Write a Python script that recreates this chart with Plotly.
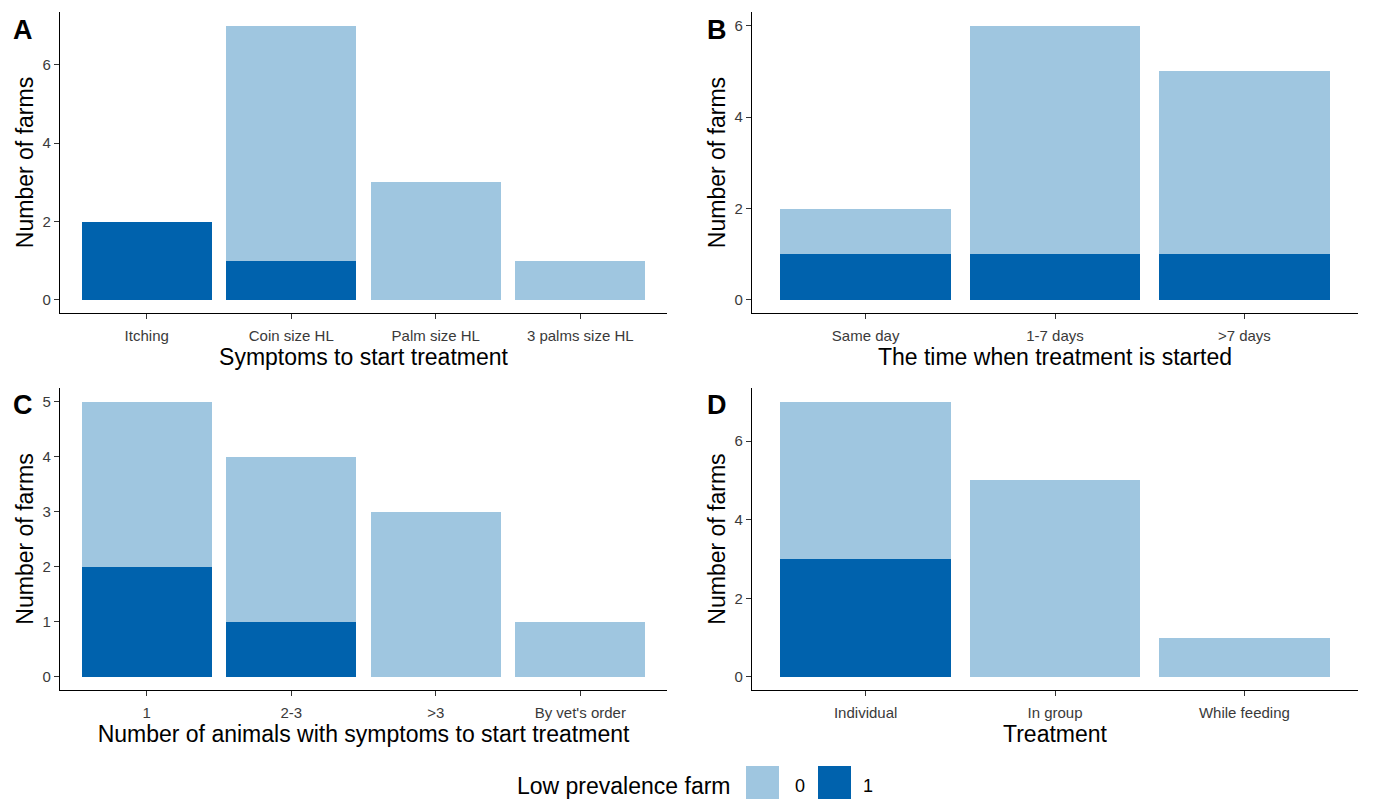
import plotly.graph_objects as go
from plotly.subplots import make_subplots

# ---- data ----
cats_a = ["Itching", "Coin size HL", "Palm size HL", "3 palms size HL"]
a_low1 = [2, 1, 0, 0]
a_low0 = [0, 6, 3, 1]

cats_b = ["Same day", "1-7 days", ">7 days"]
b_low1 = [1, 1, 1]
b_low0 = [1, 5, 4]

cats_c = ["1", "2-3", ">3", "By vet's order"]
c_low1 = [2, 1, 0, 0]
c_low0 = [3, 3, 3, 1]

cats_d = ["Individual", "In group", "While feeding"]
d_low1 = [3, 0, 0]
d_low0 = [4, 5, 1]

xtitles = ["Symptoms to start treatment", "The time when treatment is started",
           "Number of animals with symptoms to start treatment", "Treatment"]
panel_letters = ["A", "B", "C", "D"]
legend_title = "Low prevalence farm"
legend_labels = ["0", "1"]

COL0 = "#9fc6e0"
COL1 = "#0062ad"
FONT = "Arial, Liberation Sans, sans-serif"

W, H = 1378, 799
fig = make_subplots(rows=2, cols=2)

panels = [
    (cats_a, a_low1, a_low0, 1, 1, [0, 2, 4, 6], 7.35),
    (cats_b, b_low1, b_low0, 1, 2, [0, 2, 4, 6], 6.3),
    (cats_c, c_low1, c_low0, 2, 1, [0, 1, 2, 3, 4, 5], 5.25),
    (cats_d, d_low1, d_low0, 2, 2, [0, 2, 4, 6], 7.35),
]

for cats, v1, v0, r, c, ticks, top in panels:
    fig.add_trace(go.Bar(x=cats, y=v1, marker=dict(color=COL1, line=dict(width=0)),
                         showlegend=False, name="1"), row=r, col=c)
    fig.add_trace(go.Bar(x=cats, y=v0, marker=dict(color=COL0, line=dict(width=0)),
                         showlegend=False, name="0"), row=r, col=c)
    n = len(cats)
    fig.update_xaxes(range=[-0.6, n - 0.4], row=r, col=c)
    fig.update_yaxes(range=[-(top / 1.1) * 0.05, top], tickvals=ticks, row=r, col=c)

def px_x(p):
    return p / W

def px_y(p):
    return 1 - p / H

doms = {
    "xaxis": (px_x(60), px_x(667)),
    "xaxis2": (px_x(752), px_x(1358)),
    "xaxis3": (px_x(60), px_x(667)),
    "xaxis4": (px_x(752), px_x(1358)),
}
ydoms = {
    "yaxis": (px_y(313), px_y(12)),
    "yaxis2": (px_y(313), px_y(12)),
    "yaxis3": (px_y(690), px_y(388)),
    "yaxis4": (px_y(690), px_y(388)),
}
for k, d in doms.items():
    fig.layout[k].domain = d
for k, d in ydoms.items():
    fig.layout[k].domain = d

axis_common = dict(showline=True, linecolor="black", linewidth=1.2, ticks="outside",
                   ticklen=5, tickcolor="#333333", tickwidth=1.1, showgrid=False,
                   zeroline=False, automargin=False,
                   tickfont=dict(family=FONT, size=15, color="#3a3a3a"))
fig.update_xaxes(**axis_common, ticklabelstandoff=4)
fig.update_yaxes(**axis_common)

for i, t in enumerate(xtitles):
    key = "xaxis" if i == 0 else f"xaxis{i+1}"
    fig.layout[key].title = dict(text=t, font=dict(family=FONT, size=23, color="black"), standoff=1)
    ykey = "yaxis" if i == 0 else f"yaxis{i+1}"
    fig.layout[ykey].title = dict(text="Number of farms", font=dict(family=FONT, size=23, color="black"), standoff=2)

letter_pos = [(23, 30), (717, 30), (23, 405), (717, 405)]
for L, (x, y) in zip(panel_letters, letter_pos):
    fig.add_annotation(text=f"<b>{L}</b>", x=px_x(x), y=px_y(y), xref="paper", yref="paper",
                       showarrow=False, font=dict(family=FONT, size=27, color="black"),
                       xanchor="center", yanchor="middle")

fig.add_annotation(text=legend_title, x=px_x(733), y=px_y(786), xref="paper", yref="paper",
                   showarrow=False, xanchor="right", yanchor="middle",
                   font=dict(family=FONT, size=23, color="black"))
for (x0, x1), col, lab, lx in [((746, 779), COL0, legend_labels[0], 800),
                               ((818, 851), COL1, legend_labels[1], 868)]:
    fig.add_shape(type="rect", xref="paper", yref="paper", x0=px_x(x0), x1=px_x(x1),
                  y0=px_y(799), y1=px_y(766), fillcolor=col, line=dict(width=0))
    fig.add_annotation(text=lab, x=px_x(lx), y=px_y(786), xref="paper", yref="paper",
                       showarrow=False, xanchor="center", yanchor="middle",
                       font=dict(family=FONT, size=18, color="black"))

fig.update_layout(barmode="stack", bargap=0.1, width=W, height=H,
                  margin=dict(l=0, r=0, t=0, b=0, autoexpand=False),
                  plot_bgcolor="white", paper_bgcolor="white",
                  font=dict(family=FONT))

fig.write_html("out.html", config={"displayModeBar": False},
               post_script="document.body.style.margin='0';document.body.style.overflow='hidden';")
